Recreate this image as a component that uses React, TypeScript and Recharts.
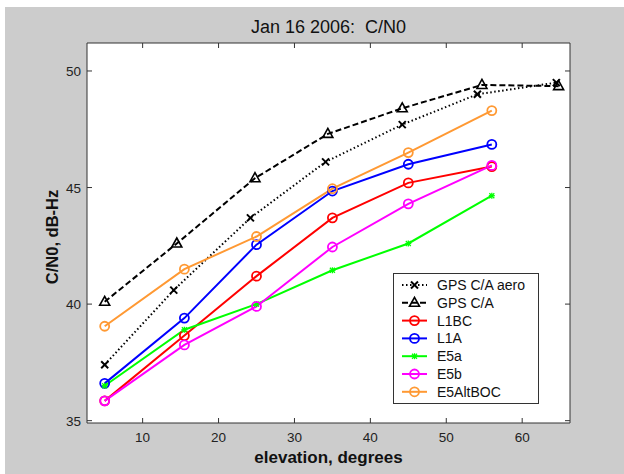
import { LineChart, Line, XAxis, YAxis, CartesianGrid, Legend } from 'recharts';

// elevation bins (deg) for each campaign
const gpsAeroElev = [5, 14.1, 24.2, 34.1, 44.2, 54.1, 64.5];
const gpsAero = [37.4, 40.6, 43.7, 46.1, 47.7, 49.0, 49.5];
const gpsCaElev = [5, 14.5, 24.8, 34.4, 44.2, 54.7, 64.8];
const gpsCa = [40.1, 42.6, 45.4, 47.3, 48.4, 49.4, 49.35];

const galElev = [5, 15.5, 25, 35, 45, 56];
const l1bc = [35.85, 38.65, 41.2, 43.7, 45.2, 45.9];
const l1a = [36.6, 39.4, 42.55, 44.85, 46.0, 46.85];
const e5a = [36.5, 38.9, 40.0, 41.45, 42.6, 44.65];
const e5b = [35.85, 38.25, 39.9, 42.45, 44.3, 45.95];
const e5altboc = [39.05, 41.5, 42.9, 44.95, 46.5, 48.3];

const xTicks = [10, 20, 30, 40, 50, 60];
const yTicks = [35, 40, 45, 50];

const W = 619;
const H = 467;
const PLOT_LEFT = 82;
const PLOT_TOP = 36;
const PLOT_RIGHT = 565;
const PLOT_BOTTOM = 416;
const AXIS = '#333';
const FONT = '"Liberation Sans", Arial, Helvetica, sans-serif';

const toPts = (xs: number[], ys: number[]) => xs.map((x, i) => ({ x, y: ys[i] }));

type Marker = 'cross' | 'triangle' | 'circle' | 'star';

const series: { name: string; data: { x: number; y: number }[]; color: string; dash?: string; width: number; marker: Marker }[] = [
    { name: 'GPS C/A aero', data: toPts(gpsAeroElev, gpsAero), color: '#000', dash: '1.5 2.5', width: 2, marker: 'cross' },
    { name: 'GPS C/A', data: toPts(gpsCaElev, gpsCa), color: '#000', dash: '6 3', width: 2, marker: 'triangle' },
    { name: 'L1BC', data: toPts(galElev, l1bc), color: '#ff0000', width: 2, marker: 'circle' },
    { name: 'L1A', data: toPts(galElev, l1a), color: '#0000ff', width: 2, marker: 'circle' },
    { name: 'E5a', data: toPts(galElev, e5a), color: '#00ff00', width: 2, marker: 'star' },
    { name: 'E5b', data: toPts(galElev, e5b), color: '#ff00ff', width: 2, marker: 'circle' },
    { name: 'E5AltBOC', data: toPts(galElev, e5altboc), color: '#ff9933', width: 2, marker: 'circle' },
];

function drawMarker(marker: Marker, cx: number, cy: number, color: string, key?: any) {
    if (marker === 'circle') {
        return <circle key={key} cx={cx} cy={cy} r={4.5} fill="none" stroke={color} strokeWidth={1.8} />;
    }
    if (marker === 'triangle') {
        return (
            <polygon key={key} points={`${cx},${cy - 5.5} ${cx - 5},${cy + 3.5} ${cx + 5},${cy + 3.5}`} fill="none" stroke={color} strokeWidth={1.6} />
        );
    }
    if (marker === 'cross') {
        return (
            <g key={key} stroke={color} strokeWidth={2}>
                <line x1={cx - 3.5} y1={cy - 3.5} x2={cx + 3.5} y2={cy + 3.5} />
                <line x1={cx - 3.5} y1={cy + 3.5} x2={cx + 3.5} y2={cy - 3.5} />
            </g>
        );
    }
    return (
        <g key={key} stroke={color} strokeWidth={1.3}>
            <line x1={cx - 2.5} y1={cy - 2.5} x2={cx + 2.5} y2={cy + 2.5} />
            <line x1={cx - 2.5} y1={cy + 2.5} x2={cx + 2.5} y2={cy - 2.5} />
            <line x1={cx - 3} y1={cy} x2={cx + 3} y2={cy} />
            <line x1={cx} y1={cy - 3} x2={cx} y2={cy + 3} />
        </g>
    );
}

const BottomTick = (props: any) => {
    const x = props.payload.coordinate;
    return (
        <g>
            <line x1={x} x2={x} y1={PLOT_BOTTOM} y2={PLOT_BOTTOM - 5} stroke={AXIS} />
            <text x={x} y={PLOT_BOTTOM + 19} textAnchor="middle" fontSize={13.5} fontFamily={FONT} fill="#222">{props.payload.value}</text>
        </g>
    );
};

const TopTick = (props: any) => {
    const x = props.payload.coordinate;
    return <line x1={x} x2={x} y1={PLOT_TOP} y2={PLOT_TOP + 5} stroke={AXIS} />;
};

const LeftTick = (props: any) => {
    const y = props.payload.coordinate;
    return (
        <g>
            <line x1={PLOT_LEFT} x2={PLOT_LEFT + 5} y1={y} y2={y} stroke={AXIS} />
            <text x={PLOT_LEFT - 6} y={y + 5} textAnchor="end" fontSize={13.5} fontFamily={FONT} fill="#222">{props.payload.value}</text>
        </g>
    );
};

const RightTick = (props: any) => {
    const y = props.payload.coordinate;
    return <line x1={PLOT_RIGHT} x2={PLOT_RIGHT - 5} y1={y} y2={y} stroke={AXIS} />;
};

const LegendBox = () => (
    <svg width={146} height={131} style={{ display: 'block' }}>
        <rect x={0.5} y={0.5} width={145} height={130} fill="#fff" stroke={AXIS} />
        {series.map((s, i) => {
            const y = 12 + i * 17.8;
            return (
                <g key={s.name}>
                    <line x1={9} x2={34} y1={y} y2={y} stroke={s.color} strokeWidth={s.width} strokeDasharray={s.dash} />
                    {drawMarker(s.marker, 21.5, y, s.color)}
                    <text x={44} y={y + 5} fontSize={14} fontFamily={FONT} fill="#111">{s.name}</text>
                </g>
            );
        })}
    </svg>
);

export default function App() {
    return (
        <div style={{ position: 'absolute', left: 0, top: 0, width: 624, height: 474, background: '#fff' }}>
            <div style={{ position: 'absolute', left: 5, top: 7, width: W, height: H, background: '#cccccc' }}>
                <div style={{ position: 'absolute', left: 0, top: 11, width: 2 * 323.5, textAlign: 'center', fontFamily: FONT, fontSize: 18, color: '#111', lineHeight: '18px', whiteSpace: 'pre' }}>
                    {'Jan 16 2006:  C/N0'}
                </div>
                <LineChart width={W} height={H} margin={{ top: PLOT_TOP - 6, right: W - PLOT_RIGHT - 6, bottom: H - PLOT_BOTTOM - 30, left: PLOT_LEFT - 40 }}>
                    <CartesianGrid fill="#fff" horizontal={false} vertical={false} />
                    <XAxis dataKey="x" type="number" domain={[2.67, 66.3]} ticks={xTicks} interval={0} allowDataOverflow height={30}
                        axisLine={{ stroke: AXIS }} tickLine={false} tick={<BottomTick />}
                        label={{ content: () => <text x={(PLOT_LEFT + PLOT_RIGHT) / 2} y={456} textAnchor="middle" fontSize={17} fontWeight="bold" fontFamily={FONT} fill="#111">elevation, degrees</text> }} />
                    <XAxis xAxisId="top" orientation="top" dataKey="x" type="number" domain={[2.67, 66.3]} ticks={xTicks} interval={0} allowDataOverflow height={6}
                        axisLine={{ stroke: AXIS }} tickLine={false} tick={<TopTick />} />
                    <YAxis type="number" domain={[34.9, 51.2]} ticks={yTicks} interval={0} allowDataOverflow width={40}
                        axisLine={{ stroke: AXIS }} tickLine={false} tick={<LeftTick />}
                        label={{ content: () => <text transform={`translate(53, 230) rotate(-90)`} textAnchor="middle" fontSize={16.5} fontWeight="bold" fontFamily={FONT} fill="#111">C/N0, dB-Hz</text> }} />
                    <YAxis yAxisId="right" orientation="right" type="number" domain={[34.9, 51.2]} ticks={yTicks} interval={0} allowDataOverflow width={6}
                        axisLine={{ stroke: AXIS }} tickLine={false} tick={<RightTick />} />
                    {series.map(s => (
                        <Line key={s.name} data={s.data} dataKey="y" name={s.name} type="linear" stroke={s.color} strokeWidth={s.width}
                            strokeDasharray={s.dash} isAnimationActive={false}
                            dot={(p: any) => drawMarker(s.marker, p.cx, p.cy, s.color, `${s.name}-${p.index}`)} />
                    ))}
                    <Legend layout="vertical" align="center" verticalAlign="middle" content={<LegendBox />}
                        wrapperStyle={{ left: 388, top: 266, width: 146, height: 131 }} />
                </LineChart>
            </div>
        </div>
    );
}
